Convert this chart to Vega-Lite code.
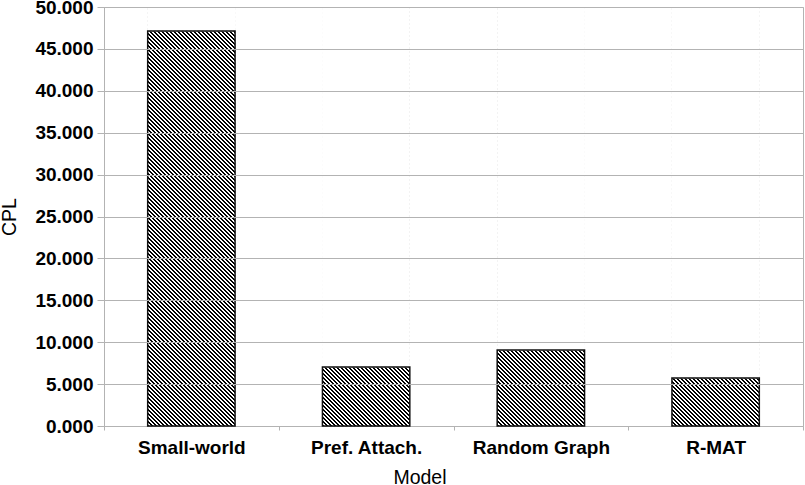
{
"$schema": "https://vega.github.io/schema/vega-lite/v6.json",
"width": 699,
"height": 419,
"autosize": {"type": "none"},
"padding": {"left": 104, "top": 7, "right": 2, "bottom": 59},
"background": "white",
"config": {"view": {"stroke": "#b3b3b3", "strokeWidth": 1}, "font": "Liberation Sans"},
"data": {"values": [
{"Model": "Small-world", "CPL": 47.14},
{"Model": "Pref. Attach.", "CPL": 7.04},
{"Model": "Random Graph", "CPL": 9.07},
{"Model": "R-MAT", "CPL": 5.73}
]},
"encoding": {
"x": {"field": "Model", "type": "nominal", "sort": null,
"scale": {"paddingInner": 0, "paddingOuter": 0},
"axis": {"title": "Model", "labelAngle": 0, "labelFont": "Liberation Sans", "labelFontWeight": "bold", "labelFontSize": 19, "labelColor": "#000", "labelPadding": 8, "tickBand": "extent", "tickSize": 4, "tickColor": "#b3b3b3", "domainColor": "#b3b3b3", "grid": false, "labelOverlap": false,
"titleFont": "Liberation Sans", "titleFontWeight": "normal", "titleFontSize": 19.5, "titleColor": "#000", "titleX": 315.5, "titleY": 57, "titleBaseline": "alphabetic", "titleAlign": "center"}},
"y": {"field": "CPL", "type": "quantitative", "title": "CPL", "scale": {"domain": [0, 50], "nice": false},
"axis": {"values": [0, 5, 10, 15, 20, 25, 30, 35, 40, 45, 50], "format": ".3f", "labelFont": "Liberation Sans", "labelFontWeight": "bold", "labelFontSize": 19, "labelColor": "#000", "labelPadding": 4, "tickSize": 7, "tickColor": "#b3b3b3", "domainColor": "#b3b3b3", "gridColor": "#b3b3b3",
"gridOpacity": {"condition": {"test": "datum.value === 0", "value": 0}, "value": 1}, "zindex": 1,
"titleFont": "Liberation Sans", "titleFontWeight": "normal", "titleFontSize": 19.5, "titleColor": "#000", "titleX": -89, "titleY": 209.5, "titleBaseline": "alphabetic", "titleAngle": 270, "titleAlign": "center"}}
},
"layer": [
{"mark": {"type": "bar", "width": {"band": 0.5}, "fill": {"gradient": "linear", "x1": 0, "y1": 1, "x2": 0.2415, "y2": -0.1582, "stops": [
{"offset":0,"color":"#000"},{"offset":0.00395,"color":"#000"},{"offset":0.00395,"color":"#0000"},{"offset":0.0079,"color":"#0000"},
{"offset":0.0079,"color":"#000"},{"offset":0.01185,"color":"#000"},{"offset":0.01185,"color":"#0000"},{"offset":0.0158,"color":"#0000"},
{"offset":0.0158,"color":"#000"},{"offset":0.01975,"color":"#000"},{"offset":0.01975,"color":"#0000"},{"offset":0.0237,"color":"#0000"},
{"offset":0.0237,"color":"#000"},{"offset":0.02765,"color":"#000"},{"offset":0.02765,"color":"#0000"},{"offset":0.0316,"color":"#0000"},
{"offset":0.0316,"color":"#000"},{"offset":0.03555,"color":"#000"},{"offset":0.03555,"color":"#0000"},{"offset":0.0395,"color":"#0000"},
{"offset":0.0395,"color":"#000"},{"offset":0.04345,"color":"#000"},{"offset":0.04345,"color":"#0000"},{"offset":0.0474,"color":"#0000"},
{"offset":0.0474,"color":"#000"},{"offset":0.05135,"color":"#000"},{"offset":0.05135,"color":"#0000"},{"offset":0.0553,"color":"#0000"},
{"offset":0.0553,"color":"#000"},{"offset":0.05925,"color":"#000"},{"offset":0.05925,"color":"#0000"},{"offset":0.0632,"color":"#0000"},
{"offset":0.0632,"color":"#000"},{"offset":0.06715,"color":"#000"},{"offset":0.06715,"color":"#0000"},{"offset":0.0711,"color":"#0000"},
{"offset":0.0711,"color":"#000"},{"offset":0.07505,"color":"#000"},{"offset":0.07505,"color":"#0000"},{"offset":0.079,"color":"#0000"},
{"offset":0.079,"color":"#000"},{"offset":0.08295,"color":"#000"},{"offset":0.08295,"color":"#0000"},{"offset":0.0869,"color":"#0000"},
{"offset":0.0869,"color":"#000"},{"offset":0.09085,"color":"#000"},{"offset":0.09085,"color":"#0000"},{"offset":0.0948,"color":"#0000"},
{"offset":0.0948,"color":"#000"},{"offset":0.09875,"color":"#000"},{"offset":0.09875,"color":"#0000"},{"offset":0.1027,"color":"#0000"},
{"offset":0.1027,"color":"#000"},{"offset":0.10665,"color":"#000"},{"offset":0.10665,"color":"#0000"},{"offset":0.1106,"color":"#0000"},
{"offset":0.1106,"color":"#000"},{"offset":0.11455,"color":"#000"},{"offset":0.11455,"color":"#0000"},{"offset":0.1185,"color":"#0000"},
{"offset":0.1185,"color":"#000"},{"offset":0.12245,"color":"#000"},{"offset":0.12245,"color":"#0000"},{"offset":0.1264,"color":"#0000"},
{"offset":0.1264,"color":"#000"},{"offset":0.13035,"color":"#000"},{"offset":0.13035,"color":"#0000"},{"offset":0.1343,"color":"#0000"},
{"offset":0.1343,"color":"#000"},{"offset":0.13825,"color":"#000"},{"offset":0.13825,"color":"#0000"},{"offset":0.1422,"color":"#0000"},
{"offset":0.1422,"color":"#000"},{"offset":0.14615,"color":"#000"},{"offset":0.14615,"color":"#0000"},{"offset":0.1501,"color":"#0000"},
{"offset":0.1501,"color":"#000"},{"offset":0.15405,"color":"#000"},{"offset":0.15405,"color":"#0000"},{"offset":0.158,"color":"#0000"},
{"offset":0.158,"color":"#000"},{"offset":0.16195,"color":"#000"},{"offset":0.16195,"color":"#0000"},{"offset":0.1659,"color":"#0000"},
{"offset":0.1659,"color":"#000"},{"offset":0.16985,"color":"#000"},{"offset":0.16985,"color":"#0000"},{"offset":0.1738,"color":"#0000"},
{"offset":0.1738,"color":"#000"},{"offset":0.17775,"color":"#000"},{"offset":0.17775,"color":"#0000"},{"offset":0.1817,"color":"#0000"},
{"offset":0.1817,"color":"#000"},{"offset":0.18565,"color":"#000"},{"offset":0.18565,"color":"#0000"},{"offset":0.1896,"color":"#0000"},
{"offset":0.1896,"color":"#000"},{"offset":0.19355,"color":"#000"},{"offset":0.19355,"color":"#0000"},{"offset":0.1975,"color":"#0000"},
{"offset":0.1975,"color":"#000"},{"offset":0.20145,"color":"#000"},{"offset":0.20145,"color":"#0000"},{"offset":0.2054,"color":"#0000"},
{"offset":0.2054,"color":"#000"},{"offset":0.20935,"color":"#000"},{"offset":0.20935,"color":"#0000"},{"offset":0.2133,"color":"#0000"},
{"offset":0.2133,"color":"#000"},{"offset":0.21725,"color":"#000"},{"offset":0.21725,"color":"#0000"},{"offset":0.2212,"color":"#0000"},
{"offset":0.2212,"color":"#000"},{"offset":0.22515,"color":"#000"},{"offset":0.22515,"color":"#0000"},{"offset":0.2291,"color":"#0000"},
{"offset":0.2291,"color":"#000"},{"offset":0.23305,"color":"#000"},{"offset":0.23305,"color":"#0000"},{"offset":0.237,"color":"#0000"},
{"offset":0.237,"color":"#000"},{"offset":0.24095,"color":"#000"},{"offset":0.24095,"color":"#0000"},{"offset":0.2449,"color":"#0000"},
{"offset":0.2449,"color":"#000"},{"offset":0.24885,"color":"#000"},{"offset":0.24885,"color":"#0000"},{"offset":0.2528,"color":"#0000"},
{"offset":0.2528,"color":"#000"},{"offset":0.25675,"color":"#000"},{"offset":0.25675,"color":"#0000"},{"offset":0.2607,"color":"#0000"},
{"offset":0.2607,"color":"#000"},{"offset":0.26465,"color":"#000"},{"offset":0.26465,"color":"#0000"},{"offset":0.2686,"color":"#0000"},
{"offset":0.2686,"color":"#000"},{"offset":0.27255,"color":"#000"},{"offset":0.27255,"color":"#0000"},{"offset":0.2765,"color":"#0000"},
{"offset":0.2765,"color":"#000"},{"offset":0.28045,"color":"#000"},{"offset":0.28045,"color":"#0000"},{"offset":0.2844,"color":"#0000"},
{"offset":0.2844,"color":"#000"},{"offset":0.28835,"color":"#000"},{"offset":0.28835,"color":"#0000"},{"offset":0.2923,"color":"#0000"},
{"offset":0.2923,"color":"#000"},{"offset":0.29625,"color":"#000"},{"offset":0.29625,"color":"#0000"},{"offset":0.3002,"color":"#0000"},
{"offset":0.3002,"color":"#000"},{"offset":0.30415,"color":"#000"},{"offset":0.30415,"color":"#0000"},{"offset":0.3081,"color":"#0000"},
{"offset":0.3081,"color":"#000"},{"offset":0.31205,"color":"#000"},{"offset":0.31205,"color":"#0000"},{"offset":0.316,"color":"#0000"},
{"offset":0.316,"color":"#000"},{"offset":0.31995,"color":"#000"},{"offset":0.31995,"color":"#0000"},{"offset":0.3239,"color":"#0000"},
{"offset":0.3239,"color":"#000"},{"offset":0.32785,"color":"#000"},{"offset":0.32785,"color":"#0000"},{"offset":0.3318,"color":"#0000"},
{"offset":0.3318,"color":"#000"},{"offset":0.33575,"color":"#000"},{"offset":0.33575,"color":"#0000"},{"offset":0.3397,"color":"#0000"},
{"offset":0.3397,"color":"#000"},{"offset":0.34365,"color":"#000"},{"offset":0.34365,"color":"#0000"},{"offset":0.3476,"color":"#0000"},
{"offset":0.3476,"color":"#000"},{"offset":0.35155,"color":"#000"},{"offset":0.35155,"color":"#0000"},{"offset":0.3555,"color":"#0000"},
{"offset":0.3555,"color":"#000"},{"offset":0.35945,"color":"#000"},{"offset":0.35945,"color":"#0000"},{"offset":0.3634,"color":"#0000"},
{"offset":0.3634,"color":"#000"},{"offset":0.36735,"color":"#000"},{"offset":0.36735,"color":"#0000"},{"offset":0.3713,"color":"#0000"},
{"offset":0.3713,"color":"#000"},{"offset":0.37525,"color":"#000"},{"offset":0.37525,"color":"#0000"},{"offset":0.3792,"color":"#0000"},
{"offset":0.3792,"color":"#000"},{"offset":0.38315,"color":"#000"},{"offset":0.38315,"color":"#0000"},{"offset":0.3871,"color":"#0000"},
{"offset":0.3871,"color":"#000"},{"offset":0.39105,"color":"#000"},{"offset":0.39105,"color":"#0000"},{"offset":0.395,"color":"#0000"},
{"offset":0.395,"color":"#000"},{"offset":0.39895,"color":"#000"},{"offset":0.39895,"color":"#0000"},{"offset":0.4029,"color":"#0000"},
{"offset":0.4029,"color":"#000"},{"offset":0.40685,"color":"#000"},{"offset":0.40685,"color":"#0000"},{"offset":0.4108,"color":"#0000"},
{"offset":0.4108,"color":"#000"},{"offset":0.41475,"color":"#000"},{"offset":0.41475,"color":"#0000"},{"offset":0.4187,"color":"#0000"},
{"offset":0.4187,"color":"#000"},{"offset":0.42265,"color":"#000"},{"offset":0.42265,"color":"#0000"},{"offset":0.4266,"color":"#0000"},
{"offset":0.4266,"color":"#000"},{"offset":0.43055,"color":"#000"},{"offset":0.43055,"color":"#0000"},{"offset":0.4345,"color":"#0000"},
{"offset":0.4345,"color":"#000"},{"offset":0.43845,"color":"#000"},{"offset":0.43845,"color":"#0000"},{"offset":0.4424,"color":"#0000"},
{"offset":0.4424,"color":"#000"},{"offset":0.44635,"color":"#000"},{"offset":0.44635,"color":"#0000"},{"offset":0.4503,"color":"#0000"},
{"offset":0.4503,"color":"#000"},{"offset":0.45425,"color":"#000"},{"offset":0.45425,"color":"#0000"},{"offset":0.4582,"color":"#0000"},
{"offset":0.4582,"color":"#000"},{"offset":0.46215,"color":"#000"},{"offset":0.46215,"color":"#0000"},{"offset":0.4661,"color":"#0000"},
{"offset":0.4661,"color":"#000"},{"offset":0.47005,"color":"#000"},{"offset":0.47005,"color":"#0000"},{"offset":0.474,"color":"#0000"},
{"offset":0.474,"color":"#000"},{"offset":0.47795,"color":"#000"},{"offset":0.47795,"color":"#0000"},{"offset":0.4819,"color":"#0000"},
{"offset":0.4819,"color":"#000"},{"offset":0.48585,"color":"#000"},{"offset":0.48585,"color":"#0000"},{"offset":0.4898,"color":"#0000"},
{"offset":0.4898,"color":"#000"},{"offset":0.49375,"color":"#000"},{"offset":0.49375,"color":"#0000"},{"offset":0.4977,"color":"#0000"},
{"offset":0.4977,"color":"#000"},{"offset":0.50165,"color":"#000"},{"offset":0.50165,"color":"#0000"},{"offset":0.5056,"color":"#0000"},
{"offset":0.5056,"color":"#000"},{"offset":0.50955,"color":"#000"},{"offset":0.50955,"color":"#0000"},{"offset":0.5135,"color":"#0000"},
{"offset":0.5135,"color":"#000"},{"offset":0.51745,"color":"#000"},{"offset":0.51745,"color":"#0000"},{"offset":0.5214,"color":"#0000"},
{"offset":0.5214,"color":"#000"},{"offset":0.52535,"color":"#000"},{"offset":0.52535,"color":"#0000"},{"offset":0.5293,"color":"#0000"},
{"offset":0.5293,"color":"#000"},{"offset":0.53325,"color":"#000"},{"offset":0.53325,"color":"#0000"},{"offset":0.5372,"color":"#0000"},
{"offset":0.5372,"color":"#000"},{"offset":0.54115,"color":"#000"},{"offset":0.54115,"color":"#0000"},{"offset":0.5451,"color":"#0000"},
{"offset":0.5451,"color":"#000"},{"offset":0.54905,"color":"#000"},{"offset":0.54905,"color":"#0000"},{"offset":0.553,"color":"#0000"},
{"offset":0.553,"color":"#000"},{"offset":0.55695,"color":"#000"},{"offset":0.55695,"color":"#0000"},{"offset":0.5609,"color":"#0000"},
{"offset":0.5609,"color":"#000"},{"offset":0.56485,"color":"#000"},{"offset":0.56485,"color":"#0000"},{"offset":0.5688,"color":"#0000"},
{"offset":0.5688,"color":"#000"},{"offset":0.57275,"color":"#000"},{"offset":0.57275,"color":"#0000"},{"offset":0.5767,"color":"#0000"},
{"offset":0.5767,"color":"#000"},{"offset":0.58065,"color":"#000"},{"offset":0.58065,"color":"#0000"},{"offset":0.5846,"color":"#0000"},
{"offset":0.5846,"color":"#000"},{"offset":0.58855,"color":"#000"},{"offset":0.58855,"color":"#0000"},{"offset":0.5925,"color":"#0000"},
{"offset":0.5925,"color":"#000"},{"offset":0.59645,"color":"#000"},{"offset":0.59645,"color":"#0000"},{"offset":0.6004,"color":"#0000"},
{"offset":0.6004,"color":"#000"},{"offset":0.60435,"color":"#000"},{"offset":0.60435,"color":"#0000"},{"offset":0.6083,"color":"#0000"},
{"offset":0.6083,"color":"#000"},{"offset":0.61225,"color":"#000"},{"offset":0.61225,"color":"#0000"},{"offset":0.6162,"color":"#0000"},
{"offset":0.6162,"color":"#000"},{"offset":0.62015,"color":"#000"},{"offset":0.62015,"color":"#0000"},{"offset":0.6241,"color":"#0000"},
{"offset":0.6241,"color":"#000"},{"offset":0.62805,"color":"#000"},{"offset":0.62805,"color":"#0000"},{"offset":0.632,"color":"#0000"},
{"offset":0.632,"color":"#000"},{"offset":0.63595,"color":"#000"},{"offset":0.63595,"color":"#0000"},{"offset":0.6399,"color":"#0000"},
{"offset":0.6399,"color":"#000"},{"offset":0.64385,"color":"#000"},{"offset":0.64385,"color":"#0000"},{"offset":0.6478,"color":"#0000"},
{"offset":0.6478,"color":"#000"},{"offset":0.65175,"color":"#000"},{"offset":0.65175,"color":"#0000"},{"offset":0.6557,"color":"#0000"},
{"offset":0.6557,"color":"#000"},{"offset":0.65965,"color":"#000"},{"offset":0.65965,"color":"#0000"},{"offset":0.6636,"color":"#0000"},
{"offset":0.6636,"color":"#000"},{"offset":0.66755,"color":"#000"},{"offset":0.66755,"color":"#0000"},{"offset":0.6715,"color":"#0000"},
{"offset":0.6715,"color":"#000"},{"offset":0.67545,"color":"#000"},{"offset":0.67545,"color":"#0000"},{"offset":0.6794,"color":"#0000"},
{"offset":0.6794,"color":"#000"},{"offset":0.68335,"color":"#000"},{"offset":0.68335,"color":"#0000"},{"offset":0.6873,"color":"#0000"},
{"offset":0.6873,"color":"#000"},{"offset":0.69125,"color":"#000"},{"offset":0.69125,"color":"#0000"},{"offset":0.6952,"color":"#0000"},
{"offset":0.6952,"color":"#000"},{"offset":0.69915,"color":"#000"},{"offset":0.69915,"color":"#0000"},{"offset":0.7031,"color":"#0000"},
{"offset":0.7031,"color":"#000"},{"offset":0.70705,"color":"#000"},{"offset":0.70705,"color":"#0000"},{"offset":0.711,"color":"#0000"},
{"offset":0.711,"color":"#000"},{"offset":0.71495,"color":"#000"},{"offset":0.71495,"color":"#0000"},{"offset":0.7189,"color":"#0000"},
{"offset":0.7189,"color":"#000"},{"offset":0.72285,"color":"#000"},{"offset":0.72285,"color":"#0000"},{"offset":0.7268,"color":"#0000"},
{"offset":0.7268,"color":"#000"},{"offset":0.73075,"color":"#000"},{"offset":0.73075,"color":"#0000"},{"offset":0.7347,"color":"#0000"},
{"offset":0.7347,"color":"#000"},{"offset":0.73865,"color":"#000"},{"offset":0.73865,"color":"#0000"},{"offset":0.7426,"color":"#0000"},
{"offset":0.7426,"color":"#000"},{"offset":0.74655,"color":"#000"},{"offset":0.74655,"color":"#0000"},{"offset":0.7505,"color":"#0000"},
{"offset":0.7505,"color":"#000"},{"offset":0.75445,"color":"#000"},{"offset":0.75445,"color":"#0000"},{"offset":0.7584,"color":"#0000"},
{"offset":0.7584,"color":"#000"},{"offset":0.76235,"color":"#000"},{"offset":0.76235,"color":"#0000"},{"offset":0.7663,"color":"#0000"},
{"offset":0.7663,"color":"#000"},{"offset":0.77025,"color":"#000"},{"offset":0.77025,"color":"#0000"},{"offset":0.7742,"color":"#0000"},
{"offset":0.7742,"color":"#000"},{"offset":0.77815,"color":"#000"},{"offset":0.77815,"color":"#0000"},{"offset":0.7821,"color":"#0000"},
{"offset":0.7821,"color":"#000"},{"offset":0.78605,"color":"#000"},{"offset":0.78605,"color":"#0000"},{"offset":0.79,"color":"#0000"},
{"offset":0.79,"color":"#000"},{"offset":0.79395,"color":"#000"},{"offset":0.79395,"color":"#0000"},{"offset":0.7979,"color":"#0000"},
{"offset":0.7979,"color":"#000"},{"offset":0.80185,"color":"#000"},{"offset":0.80185,"color":"#0000"},{"offset":0.8058,"color":"#0000"},
{"offset":0.8058,"color":"#000"},{"offset":0.80975,"color":"#000"},{"offset":0.80975,"color":"#0000"},{"offset":0.8137,"color":"#0000"},
{"offset":0.8137,"color":"#000"},{"offset":0.81765,"color":"#000"},{"offset":0.81765,"color":"#0000"},{"offset":0.8216,"color":"#0000"},
{"offset":0.8216,"color":"#000"},{"offset":0.82555,"color":"#000"},{"offset":0.82555,"color":"#0000"},{"offset":0.8295,"color":"#0000"},
{"offset":0.8295,"color":"#000"},{"offset":0.83345,"color":"#000"},{"offset":0.83345,"color":"#0000"},{"offset":0.8374,"color":"#0000"},
{"offset":0.8374,"color":"#000"},{"offset":0.84135,"color":"#000"},{"offset":0.84135,"color":"#0000"},{"offset":0.8453,"color":"#0000"},
{"offset":0.8453,"color":"#000"},{"offset":0.84925,"color":"#000"},{"offset":0.84925,"color":"#0000"},{"offset":0.8532,"color":"#0000"},
{"offset":0.8532,"color":"#000"},{"offset":0.85715,"color":"#000"},{"offset":0.85715,"color":"#0000"},{"offset":0.8611,"color":"#0000"},
{"offset":0.8611,"color":"#000"},{"offset":0.86505,"color":"#000"},{"offset":0.86505,"color":"#0000"},{"offset":0.869,"color":"#0000"},
{"offset":0.869,"color":"#000"},{"offset":0.87295,"color":"#000"},{"offset":0.87295,"color":"#0000"},{"offset":0.8769,"color":"#0000"},
{"offset":0.8769,"color":"#000"},{"offset":0.88085,"color":"#000"},{"offset":0.88085,"color":"#0000"},{"offset":0.8848,"color":"#0000"},
{"offset":0.8848,"color":"#000"},{"offset":0.88875,"color":"#000"},{"offset":0.88875,"color":"#0000"},{"offset":0.8927,"color":"#0000"},
{"offset":0.8927,"color":"#000"},{"offset":0.89665,"color":"#000"},{"offset":0.89665,"color":"#0000"},{"offset":0.9006,"color":"#0000"},
{"offset":0.9006,"color":"#000"},{"offset":0.90455,"color":"#000"},{"offset":0.90455,"color":"#0000"},{"offset":0.9085,"color":"#0000"},
{"offset":0.9085,"color":"#000"},{"offset":0.91245,"color":"#000"},{"offset":0.91245,"color":"#0000"},{"offset":0.9164,"color":"#0000"},
{"offset":0.9164,"color":"#000"},{"offset":0.92035,"color":"#000"},{"offset":0.92035,"color":"#0000"},{"offset":0.9243,"color":"#0000"},
{"offset":0.9243,"color":"#000"},{"offset":0.92825,"color":"#000"},{"offset":0.92825,"color":"#0000"},{"offset":0.9322,"color":"#0000"},
{"offset":0.9322,"color":"#000"},{"offset":0.93615,"color":"#000"},{"offset":0.93615,"color":"#0000"},{"offset":0.9401,"color":"#0000"},
{"offset":0.9401,"color":"#000"},{"offset":0.94405,"color":"#000"},{"offset":0.94405,"color":"#0000"},{"offset":0.948,"color":"#0000"},
{"offset":0.948,"color":"#000"},{"offset":0.95195,"color":"#000"},{"offset":0.95195,"color":"#0000"},{"offset":0.9559,"color":"#0000"},
{"offset":0.9559,"color":"#000"},{"offset":0.95985,"color":"#000"},{"offset":0.95985,"color":"#0000"},{"offset":0.9638,"color":"#0000"},
{"offset":0.9638,"color":"#000"},{"offset":0.96775,"color":"#000"},{"offset":0.96775,"color":"#0000"},{"offset":0.9717,"color":"#0000"},
{"offset":0.9717,"color":"#000"},{"offset":0.97565,"color":"#000"},{"offset":0.97565,"color":"#0000"},{"offset":0.9796,"color":"#0000"},
{"offset":0.9796,"color":"#000"},{"offset":0.98355,"color":"#000"},{"offset":0.98355,"color":"#0000"},{"offset":0.9875,"color":"#0000"},
{"offset":0.9875,"color":"#000"},{"offset":0.99145,"color":"#000"},{"offset":0.99145,"color":"#0000"},{"offset":0.9954,"color":"#0000"},
{"offset":0.9954,"color":"#000"},{"offset":0.99935,"color":"#000"},{"offset":0.99935,"color":"#0000"},{"offset":1,"color":"#0000"}
]}},
"encoding": {"y": {"datum": 0, "type": "quantitative", "title": "CPL"}, "y2": {"datum": 50}}},
{"mark": {"type": "bar", "width": {"band": 0.5}, "fill": "#ffffff", "stroke": "#ffffff", "strokeWidth": 1},
"encoding": {"y2": {"datum": 50}}},
{"mark": {"type": "bar", "width": {"band": 0.5}, "fill": "transparent", "stroke": "#111111", "strokeWidth": 1.5}}
]
}
